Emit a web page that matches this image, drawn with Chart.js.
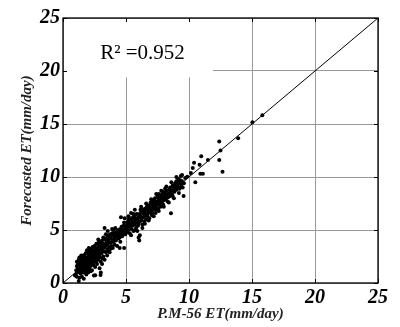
<!DOCTYPE html>
<html>
<head>
<meta charset="utf-8">
<script src="https://cdn.jsdelivr.net/npm/chart.js@4.4.1/dist/chart.umd.min.js"></script>
<style>
html,body{margin:0;padding:0;background:#fff;}
#wrap{width:400px;height:327px;}
</style>
</head>
<body>
<div id="wrap"><canvas id="c" width="400" height="327"></canvas></div>
<script>
// Axis ticks
const tickValues = [0, 5, 10, 15, 20, 25];
const xTitle = 'P.M-56 ET(mm/day)';
const yTitle = 'Forecasted ET(mm/day)';
const r2Label = 'R\u00B2 =0.952';

// 1:1 reference line
const lineX = [0, 25];
const lineY = [0, 25];

// [P.M-56 ET, Forecasted ET] pairs, grouped by range
const range1to2 = [
  [0.95,0.7],[1.0,0.8],[1.05,1.2],[1.1,1.6],[1.1,2.0],[1.15,1.0],[1.2,1.4],[1.2,1.8],[1.25,0.2],[1.25,2.2],
  [1.3,0.5],[1.3,1.1],[1.3,1.7],[1.35,2.0],[1.35,1.3],[1.4,0.9],[1.4,1.5],[1.4,2.3],[1.45,1.9],[1.5,0.6],
  [1.5,1.2],[1.5,1.6],[1.5,2.1],[1.55,1.4],[1.55,2.4],[1.6,1.0],[1.6,1.8],[1.6,2.2],[1.65,1.5],[1.65,0.4],
  [1.7,1.2],[1.7,2.0],[1.7,2.6],[1.75,1.7],[1.75,1.0],[1.8,1.4],[1.8,2.2],[1.8,2.8],[1.85,1.9],[1.85,0.8],
  [1.9,1.6],[1.9,2.4],[1.9,1.2],[1.95,2.0],[1.95,2.9],[2.0,1.5],[2.0,2.2],[2.0,1.0],
  [1.15,1.5],[1.25,1.9],[1.45,1.1],[1.55,1.9],[1.65,2.1],[1.75,2.3],[1.85,1.5],[1.35,1.6],
  [1.1,0.6],[1.3,2.4],[1.6,2.6],[1.45,2.6]
];
const range2to3 = [
  [2.05,2.6],[2.05,1.8],[2.1,3.0],[2.1,1.3],[2.1,2.3],[2.15,2.0],[2.2,2.7],[2.2,1.6],[2.2,3.2],[2.25,2.4],
  [2.3,1.9],[2.3,2.9],[2.3,1.2],[2.35,3.4],[2.35,2.2],[2.4,2.6],[2.4,1.7],[2.45,3.0],[2.45,0.7],[2.5,2.3],
  [2.5,3.5],[2.5,2.0],[2.55,2.8],[2.55,1.5],[2.6,3.2],[2.6,2.5],[2.65,3.7],[2.65,2.1],[2.7,2.9],[2.7,3.3],
  [2.7,1.8],[2.75,2.6],[2.8,3.6],[2.8,3.0],[2.8,2.2],[2.85,3.9],[2.9,2.7],[2.9,3.4],[2.9,1.4],[2.95,3.1],
  [2.95,2.4],[3.0,3.8],[3.0,3.3],[2.98,0.75],[3.0,1.0],[3.0,2.0],[2.56,0.72],
  [2.15,2.9],[2.25,1.9],[2.4,3.1],[2.6,2.0],[2.75,3.1],[2.85,2.5],
  [1.9,3.1],[2.2,1.1],[2.5,2.9],[2.7,2.4],[2.35,2.6],[2.05,3.3],[2.8,4.1]
];
const range3to4 = [
  [3.05,2.8],[3.1,3.5],[3.1,4.0],[3.15,3.2],[3.2,2.5],[3.2,3.7],[3.25,3.0],[3.3,5.2],[3.3,3.4],[3.3,2.2],
  [3.35,4.1],[3.4,3.6],[3.4,2.9],[3.45,3.9],[3.5,4.3],[3.5,3.2],[3.5,2.6],[3.55,3.7],[3.6,4.5],[3.6,4.0],
  [3.65,3.4],[3.7,4.2],[3.7,2.9],[3.75,4.6],[3.8,3.8],[3.8,4.4],[3.85,3.5],[3.9,4.7],[3.9,4.1],[3.95,3.3],
  [4.0,4.5],[4.0,3.9],[4.0,5.0],
  [3.1,1.8],[3.2,4.3],[3.4,4.6],[3.6,3.0],[3.9,5.1],[3.05,3.6],[3.15,2.3],[3.55,4.9],[3.75,3.2]
];
const range4to5 = [
  [4.05,4.2],[4.1,4.7],[4.1,3.6],[4.15,5.2],[4.2,4.4],[4.2,4.0],[4.25,4.8],[4.3,3.5],[4.3,4.5],[4.35,4.9],
  [4.4,4.2],[4.4,5.0],[4.45,4.6],[4.5,3.3],[4.5,4.8],[4.5,4.3],[4.55,5.1],[4.6,6.2],[4.6,4.6],[4.65,5.3],
  [4.7,4.9],[4.7,4.4],[4.75,5.0],[4.8,5.4],[4.8,4.7],[4.85,3.3],[4.9,6.1],[4.9,5.1],[4.95,4.6],[5.0,5.4],
  [5.0,4.9],[4.85,5.7],[4.55,3.9]
];
const range5to6 = [
  [5.05,5.2],[5.1,5.7],[5.1,4.8],[5.15,5.4],[5.2,5.0],[5.2,5.9],[5.25,5.3],[5.3,5.6],[5.3,4.7],[5.35,6.0],
  [5.4,5.5],[5.4,6.6],[5.45,5.1],[5.5,5.8],[5.5,5.4],[5.55,6.2],[5.6,5.6],[5.6,4.9],[5.65,6.0],[5.7,5.5],
  [5.7,6.4],[5.75,5.8],[5.8,6.1],[5.8,5.2],[5.85,6.5],[5.9,5.7],[5.9,6.0],[5.95,5.4],[6.0,6.2],[6.0,4.3],
  [6.05,4.0],[6.1,4.5],
  [5.2,6.3],[5.6,6.5],[5.9,4.9],[5.4,4.5],[5.7,6.9],[6.0,5.6],[5.75,5.0],[5.25,6.1]
];
const range6to7 = [
  [6.05,6.5],[6.1,5.8],[6.15,6.3],[6.2,6.8],[6.2,5.9],[6.25,6.1],[6.3,6.6],[6.3,5.5],[6.35,6.9],[6.4,6.2],
  [6.4,6.7],[6.45,5.8],[6.5,6.4],[6.5,7.0],[6.55,6.6],[6.6,6.0],[6.6,6.9],[6.65,7.2],[6.7,6.5],[6.7,6.3],
  [6.75,7.0],[6.8,6.7],[6.8,7.3],[6.85,6.1],[6.9,6.9],[6.9,7.1],[6.95,6.6],[7.0,7.4],[7.0,6.8],
  [6.2,7.2],[6.3,5.2],[6.6,7.5],[6.8,5.9],[6.45,6.5],[6.95,7.6],[6.5,5.6],[6.15,6.9]
];
const range7to8 = [
  [7.05,7.0],[7.1,7.6],[7.1,6.6],[7.15,7.2],[7.2,7.8],[7.2,6.9],[7.25,7.4],[7.3,7.1],[7.3,8.0],[7.35,7.5],
  [7.4,6.9],[7.4,7.7],[7.45,7.3],[7.5,8.2],[7.5,7.5],[7.55,7.0],[7.6,7.8],[7.6,8.4],[7.65,7.4],[7.7,7.6],
  [7.7,8.1],[7.75,7.2],[7.8,7.9],[7.8,8.3],[7.85,7.6],[7.9,8.0],[7.95,7.4],[8.0,8.2],[8.0,7.8],
  [7.0,7.9],[7.2,6.3],[7.4,8.4],[7.6,6.8],[7.8,8.7],[7.35,6.6],[7.9,8.6],[7.05,6.4],[7.55,8.1]
];
const range8to10 = [
  [8.05,8.5],[8.1,7.9],[8.15,8.3],[8.2,8.0],[8.2,8.7],[8.3,8.4],[8.35,8.1],[8.4,8.8],[8.45,8.5],[8.5,8.2],
  [8.5,9.0],[8.57,6.57],[8.6,8.7],[8.65,8.4],[8.7,9.2],[8.75,8.8],[8.8,9.0],[8.85,8.6],[8.9,9.4],[8.95,9.1],
  [9.0,8.8],[9.0,9.6],[9.05,9.2],[9.1,9.0],[9.15,9.8],[9.2,9.4],[9.25,8.9],[9.3,9.7],[9.35,10.1],[9.4,9.3],
  [9.45,9.6],[9.5,9.0],[9.57,8.2],[9.6,9.4],[9.7,9.9],[9.86,10.03],[10.15,10.38],
  [8.0,7.2],[8.2,9.1],[8.4,7.6],[8.6,9.5],[8.8,8.0],[9.0,10.0],[9.2,8.5],[9.3,9.0],[8.3,7.7],[8.7,8.2],
  [9.1,9.5],[9.45,10.2],[8.1,8.9]
];
const rangeAbove10 = [
  [10.3,10.85],[10.4,11.35],[10.5,9.5],[10.84,11.16],[10.9,10.3],[10.97,11.95],[11.1,10.3],[11.5,11.6],
  [12.4,13.36],[12.5,12.5],[12.4,11.6],[12.66,10.5],[13.9,13.65],[15.03,15.16],[15.82,15.82]
];

const allPairs = [].concat(range1to2, range2to3, range3to4, range4to5, range5to6,
                           range6to7, range7to8, range8to10, rangeAbove10);
const scatterData = allPairs.map(p => ({x: p[0], y: p[1]}));
const lineData = lineX.map((v, i) => ({x: v, y: lineY[i]}));

const tickFont = {family: '"Liberation Serif", "Times New Roman", serif', size: 20, style: 'italic', weight: 'bold'};
const titleFont = {family: '"Liberation Serif", "Times New Roman", serif', size: 15, style: 'italic', weight: 'bold'};

const framePlugin = {
  id: 'frame',
  beforeDatasetsDraw(chart) {
    const {ctx, chartArea: a, scales: {x, y}} = chart;
    ctx.save();
    ctx.fillStyle = '#ffffff';
    const x1 = x.getPixelForValue(11.9);
    const y1 = y.getPixelForValue(19.4);
    ctx.fillRect(a.left + 1, a.top + 1, x1 - a.left - 1, y1 - a.top - 1);
    ctx.restore();
  },
  afterDraw(chart) {
    const {ctx, chartArea: a, scales: {x, y}} = chart;
    ctx.save();
    ctx.strokeStyle = '#000';
    ctx.lineWidth = 1.3;
    ctx.strokeRect(a.left, a.top, a.right - a.left, a.bottom - a.top);
    ctx.lineWidth = 1;
    const tl = 4;
    ctx.beginPath();
    tickValues.forEach(v => {
      const px = Math.round(x.getPixelForValue(v)) + 0.5;
      ctx.moveTo(px, a.bottom); ctx.lineTo(px, a.bottom - tl);
      ctx.moveTo(px, a.top); ctx.lineTo(px, a.top + tl);
      const py = Math.round(y.getPixelForValue(v)) + 0.5;
      ctx.moveTo(a.left, py); ctx.lineTo(a.left + tl, py);
      ctx.moveTo(a.right, py); ctx.lineTo(a.right - tl, py);
    });
    ctx.stroke();
    ctx.fillStyle = '#000';
    ctx.font = '21px "Liberation Serif", "Times New Roman", serif';
    ctx.textBaseline = 'alphabetic';
    ctx.textAlign = 'left';
    ctx.fillText(r2Label, x.getPixelForValue(2.95), y.getPixelForValue(21.1));
    ctx.restore();
  }
};

new Chart(document.getElementById('c'), {
  type: 'scatter',
  data: {
    datasets: [
      {
        type: 'line',
        data: lineData,
        borderColor: '#000',
        borderWidth: 1,
        pointRadius: 0,
        fill: false,
        order: 2
      },
      {
        data: scatterData,
        backgroundColor: '#000',
        borderWidth: 0,
        pointRadius: 2,
        order: 1
      }
    ]
  },
  options: {
    responsive: false,
    animation: false,
    layout: {padding: {top: 18, right: 22, left: 0, bottom: 0}},
    plugins: {legend: {display: false}, tooltip: {enabled: false}},
    scales: {
      x: {
        type: 'linear', min: 0, max: 25,
        afterBuildTicks: s => { s.ticks = tickValues.map(v => ({value: v})); },
        afterFit: s => { s.height = 44; },
        grid: {color: '#9a9a9a', lineWidth: 1, drawTicks: false},
        border: {display: false},
        ticks: {color: '#000', font: tickFont, padding: 3, maxRotation: 0},
        title: {display: true, text: xTitle, color: '#222', font: titleFont, padding: {top: 0, bottom: 4}}
      },
      y: {
        type: 'linear', min: 0, max: 25,
        afterBuildTicks: s => { s.ticks = tickValues.map(v => ({value: v})); },
        afterFit: s => { s.width = 63; },
        grid: {color: '#9a9a9a', lineWidth: 1, drawTicks: false},
        border: {display: false},
        ticks: {color: '#000', font: tickFont, padding: 3},
        title: {display: true, text: yTitle, color: '#222', font: titleFont, padding: {top: 18, bottom: 0}}
      }
    }
  },
  plugins: [framePlugin]
});
</script>
</body>
</html>
